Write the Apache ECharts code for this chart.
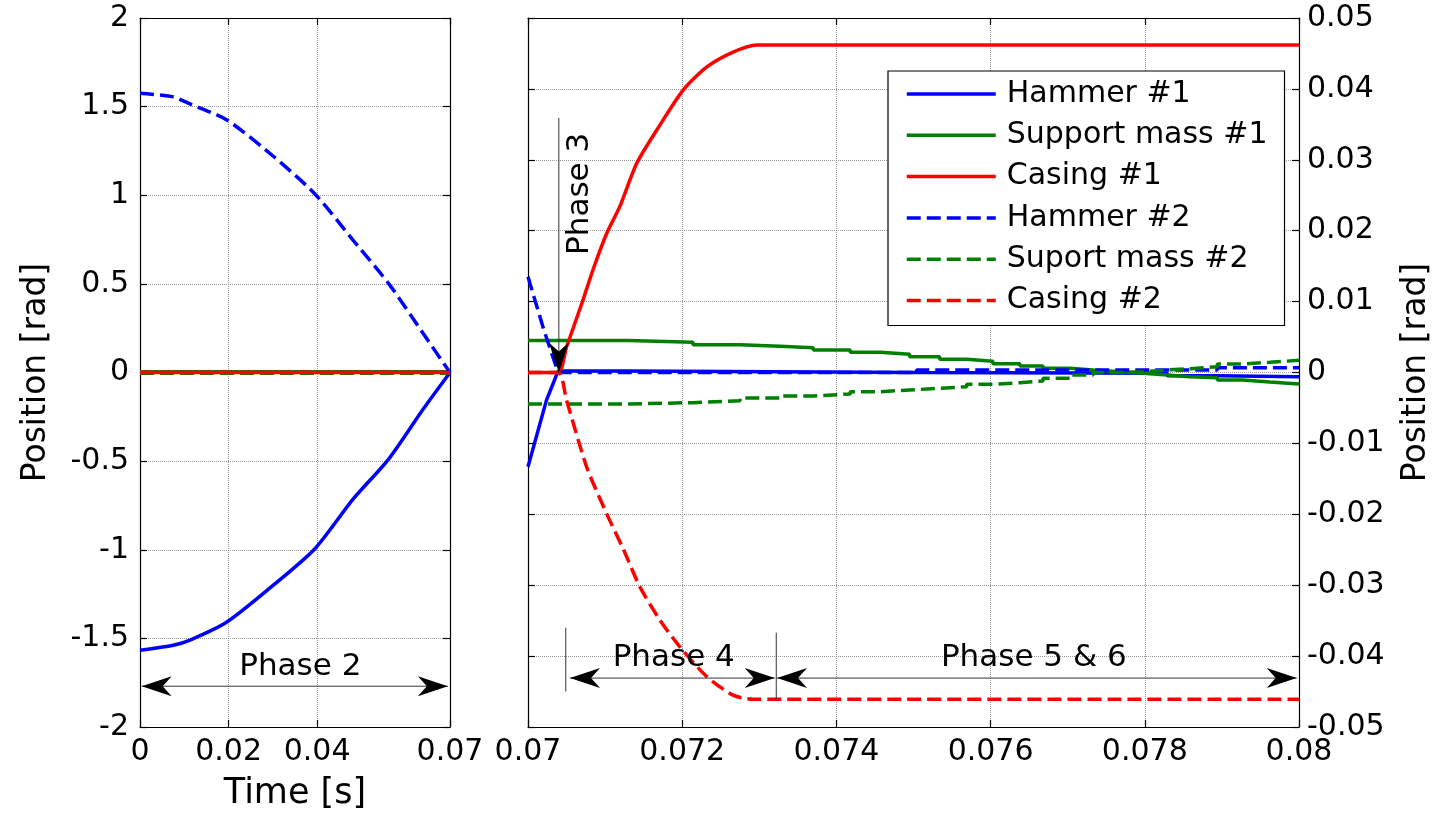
<!DOCTYPE html>
<html>
<head>
<meta charset="utf-8">
<title>Position [rad] vs Time [s]</title>
<script src="https://cdn.jsdelivr.net/npm/echarts@6/dist/echarts.min.js"></script>
<style>
  html, body { margin: 0; padding: 0; background: #fff; }
  #chart { width: 1447px; height: 817px; }
</style>
</head>
<body>
<div id="chart"></div>
<script>
// values
const seriesNames = ['Hammer #1', 'Support mass #1', 'Casing #1', 'Hammer #2', 'Suport mass #2', 'Casing #2'];

// phase 2 : 0 .. 0.07 s  (left panel, rad)
const leftT       = [0, 0.0075, 0.0113, 0.0196, 0.0301, 0.0395, 0.0482, 0.0562, 0.064, 0.07];
const hammer1Left = [-1.567, -1.539, -1.51, -1.408, -1.2, -0.994, -0.712, -0.487, -0.205, 0];
const hammer2Left = [1.575, 1.555, 1.515, 1.425, 1.22, 1.007, 0.744, 0.5, 0.218, 0];
const flatT        = [0, 0.07];
const support1Left = [0.004, 0.0045];
const support2Left = [-0.004, -0.0044];
const casingLeft   = [0, 0];

// phases 3..6 : 0.07 .. 0.08 s  (right panel, rad)
const hammer1T = [0.07, 0.07024, 0.07039, 0.07131, 0.07131, 0.07504, 0.07504, 0.07829, 0.07829, 0.07894, 0.07894, 0.08];
const hammer1V = [-0.0133, -0.0039, 0.0002, 0.0002, 0, 0, -0.0001, -0.0001, -0.00045, -0.00045, -0.0006, -0.0006];
const hammer2T = [0.07, 0.0702, 0.07039, 0.07504, 0.07504, 0.07894, 0.07894, 0.08];
const hammer2V = [0.0135, 0.0062, 0, 0, 0.00035, 0.00035, 0.00068, 0.00068];
const casing1T = [0.07, 0.07039, 0.0705, 0.0707, 0.07085, 0.07102, 0.07119, 0.07141, 0.07167, 0.07201, 0.07232, 0.07266, 0.07297, 0.08];
const casing1V = [0, 0, 0.0036, 0.0098, 0.0147, 0.0196, 0.0234, 0.0295, 0.0342, 0.0398, 0.0431, 0.0452, 0.0462, 0.0462];
const casing2T = [0.07, 0.07039, 0.0705, 0.07076, 0.07102, 0.07124, 0.07145, 0.07171, 0.07197, 0.07232, 0.07266, 0.07292, 0.08];
const casing2V = [0, 0, -0.0039, -0.0133, -0.0199, -0.025, -0.0302, -0.0349, -0.0387, -0.0429, -0.0455, -0.0461, -0.0461];
const supportT  = [0.07, 0.0713, 0.07214, 0.07275, 0.07327, 0.0737, 0.07418, 0.07457, 0.07495, 0.07534, 0.07569, 0.07603,
                   0.07638, 0.07668, 0.07703, 0.07733, 0.07768, 0.07798, 0.07829, 0.07859, 0.07894, 0.07927, 0.07962, 0.08];
const support1V = [0.0045, 0.00426, 0.0039, 0.0037, 0.0035, 0.00317, 0.00285, 0.00257, 0.00223, 0.00186, 0.00158, 0.00124,
                   0.00092, 0.00059, 0.00035, 0.00011, -0.0001, -0.00035, -0.0006, -0.00073, -0.00106, -0.00134, -0.00162, -0.0017];
const support2V = [-0.00444, -0.00425, -0.00397, -0.0036, -0.00331, -0.00303, -0.00271, -0.00247, -0.00223, -0.002, -0.00167, -0.00144,
                   -0.0012, -0.00082, -0.00035, 0, 0.0001, 0.00035, 0.00054, 0.00082, 0.0012, 0.00144, 0.00172, 0.0018];

// tick labels
const leftXTicks = [0, 0.02, 0.04, 0.07];

const FONT = 'DejaVu Sans';
const BLUE = '#0000ff', GREEN = '#008000', RED = '#ff0000';

function pairs(t, v) { return t.map((x, i) => [x, v[i]]); }

function line(name, color, dashed, panel, data, opts) {
  return Object.assign({
    name: name, type: 'line', symbol: 'none', silent: true,
    xAxisIndex: panel * 2, yAxisIndex: panel * 2,
    data: data,
    itemStyle: { color: color },
    lineStyle: { color: color, width: 3.5, type: dashed ? [14, 6] : 'solid' }
  }, opts || {});
}
const curved = { smooth: 0.25 };

const axLine = { show: true, onZero: false, lineStyle: { color: '#000', width: 1.2 } };
const tick = { show: true, inside: true, length: 7, lineStyle: { color: '#000', width: 1.2 } };
const grid = { show: true, lineStyle: { color: '#999', type: 'dotted', width: 1 } };
const lbl = { color: '#000', fontFamily: FONT, fontSize: 30 };

let myChart = echarts.init(document.getElementById('chart'));

myChart.setOption({
  animation: false,
  backgroundColor: '#fff',
  grid: [
    { left: 140, top: 18, width: 310, height: 709, outerBoundsMode: 'none' },
    { left: 528, top: 18, width: 771, height: 709, outerBoundsMode: 'none' }
  ],
  xAxis: [
    { // left panel, bottom
      type: 'value', gridIndex: 0, min: 0, max: 0.07,
      name: 'Time [s]', nameLocation: 'middle', nameGap: 49,
      nameTextStyle: { color: '#000', fontFamily: FONT, fontSize: 35 },
      axisLine: axLine,
      axisTick: Object.assign({ customValues: leftXTicks }, tick),
      axisLabel: Object.assign({ customValues: leftXTicks, margin: 10 }, lbl),
      splitLine: grid
    },
    { // left panel, top box edge
      type: 'value', gridIndex: 0, min: 0, max: 0.07, position: 'top',
      axisLine: axLine, axisTick: Object.assign({ customValues: leftXTicks }, tick),
      axisLabel: { show: false }, splitLine: { show: false }
    },
    { // right panel, bottom
      type: 'value', gridIndex: 1, min: 0.07, max: 0.08, interval: 0.002,
      axisLine: axLine, axisTick: tick,
      axisLabel: Object.assign({ margin: 10 }, lbl),
      splitLine: grid
    },
    { // right panel, top box edge
      type: 'value', gridIndex: 1, min: 0.07, max: 0.08, interval: 0.002, position: 'top',
      axisLine: axLine, axisTick: tick, axisLabel: { show: false }, splitLine: { show: false }
    }
  ],
  yAxis: [
    { // left panel
      type: 'value', gridIndex: 0, min: -2, max: 2, interval: 0.5,
      name: 'Position [rad]', nameLocation: 'middle', nameGap: 87, nameRotate: 90,
      nameTextStyle: { color: '#000', fontFamily: FONT, fontSize: 33 },
      axisLine: axLine, axisTick: tick,
      axisLabel: Object.assign({ margin: 11 }, lbl),
      splitLine: grid
    },
    { // left panel, right box edge
      type: 'value', gridIndex: 0, min: -2, max: 2, interval: 0.5, position: 'right',
      axisLine: axLine, axisTick: tick, axisLabel: { show: false }, splitLine: { show: false }
    },
    { // right panel, labelled on the right
      type: 'value', gridIndex: 1, min: -0.05, max: 0.05, interval: 0.01, position: 'right',
      name: 'Position [rad]', nameLocation: 'middle', nameGap: 101, nameRotate: 90,
      nameTextStyle: { color: '#000', fontFamily: FONT, fontSize: 33 },
      axisLine: axLine, axisTick: tick,
      axisLabel: Object.assign({ margin: 8 }, lbl),
      splitLine: grid
    },
    { // right panel, left box edge
      type: 'value', gridIndex: 1, min: -0.05, max: 0.05, interval: 0.01, position: 'left',
      axisLine: axLine, axisTick: tick, axisLabel: { show: false }, splitLine: { show: false }
    }
  ],
  legend: {
    data: seriesNames,
    orient: 'vertical', left: 888, top: 71,
    padding: [8, 17, 10, 17],
    itemWidth: 89, itemHeight: 30, itemGap: 11.3,
    backgroundColor: '#fff', borderColor: '#000', borderWidth: 1.2,
    selectedMode: false,
    itemStyle: { opacity: 0 },
    lineStyle: { width: 3.5 },
    textStyle: { color: '#000', fontFamily: FONT, fontSize: 30, padding: [0, 0, 0, 6] }
  },
  series: [
    line(seriesNames[0], BLUE, false, 0, pairs(leftT, hammer1Left), curved),
    line(seriesNames[1], GREEN, false, 0, pairs(flatT, support1Left)),
    line(seriesNames[2], RED, false, 0, pairs(flatT, casingLeft)),
    line(seriesNames[3], BLUE, true, 0, pairs(leftT, hammer2Left), curved),
    line(seriesNames[4], GREEN, true, 0, pairs(flatT, support2Left)),
    line(seriesNames[5], RED, true, 0, pairs(flatT, casingLeft)),

    line(seriesNames[0], BLUE, false, 1, pairs(hammer1T, hammer1V)),
    line(seriesNames[1], GREEN, false, 1, pairs(supportT, support1V), { step: 'end' }),
    line(seriesNames[2], RED, false, 1, pairs(casing1T, casing1V), curved),
    line(seriesNames[3], BLUE, true, 1, pairs(hammer2T, hammer2V)),
    line(seriesNames[4], GREEN, true, 1, pairs(supportT, support2V), { step: 'end' }),
    line(seriesNames[5], RED, true, 1, pairs(casing2T, casing2V), curved)
  ]
});

// phase annotations, placed in data coordinates
const L = { xAxisIndex: 0, yAxisIndex: 0 };
const R = { xAxisIndex: 2, yAxisIndex: 2 };
function px(finder, p) { return myChart.convertToPixel(finder, p); }

function head(tip, dx, dy) {
  const len = 30, w = 20;
  const nx = -dy, ny = dx;
  return {
    type: 'polygon', z: 20, silent: true,
    shape: { points: [
      [tip[0], tip[1]],
      [tip[0] - len * dx + w / 2 * nx, tip[1] - len * dy + w / 2 * ny],
      [tip[0] - 0.7 * len * dx, tip[1] - 0.7 * len * dy],
      [tip[0] - len * dx - w / 2 * nx, tip[1] - len * dy - w / 2 * ny]
    ] },
    style: { fill: '#000' }
  };
}
function seg(a, b) {
  return { type: 'line', z: 20, silent: true,
    shape: { x1: a[0], y1: a[1], x2: b[0], y2: b[1] },
    style: { stroke: '#333', lineWidth: 1 } };
}
function doubleArrow(a, b) {
  return [seg(a, b), head(a, -1, 0), head(b, 1, 0)];
}
function label(p, text, rot) {
  return { type: 'text', z: 21, silent: true, x: p[0], y: p[1], rotation: rot || 0,
    style: { text: text, fill: '#000', font: '31px "DejaVu Sans"', align: 'center', verticalAlign: 'middle' } };
}

let g = [];
// phase 2
g = g.concat(doubleArrow(px(L, [0.00038, -1.77]), px(L, [0.06952, -1.77])));
g.push(label(px(L, [0.0362, -1.66]), 'Phase 2'));
// phase 3
const p3tip = px(R, [0.0704, 0]);
g.push(seg(px(R, [0.0704, 0.0359]), p3tip));
g.push(head(p3tip, 0, 1));
g.push(label(px(R, [0.07067, 0.0252]), 'Phase 3', Math.PI / 2));
// phase 4
g.push(seg(px(R, [0.07049, -0.036]), px(R, [0.07049, -0.045])));
g.push(seg(px(R, [0.07322, -0.0367]), px(R, [0.07322, -0.0461])));
g = g.concat(doubleArrow(px(R, [0.070545, -0.0431]), px(R, [0.0732, -0.0431])));
g.push(label(px(R, [0.07189, -0.0402]), 'Phase 4'));
// phase 5 & 6
g = g.concat(doubleArrow(px(R, [0.07323, -0.0431]), px(R, [0.07997, -0.0431])));
g.push(label(px(R, [0.07656, -0.0402]), 'Phase 5 & 6'));

myChart.setOption({ graphic: g });
</script>
</body>
</html>
